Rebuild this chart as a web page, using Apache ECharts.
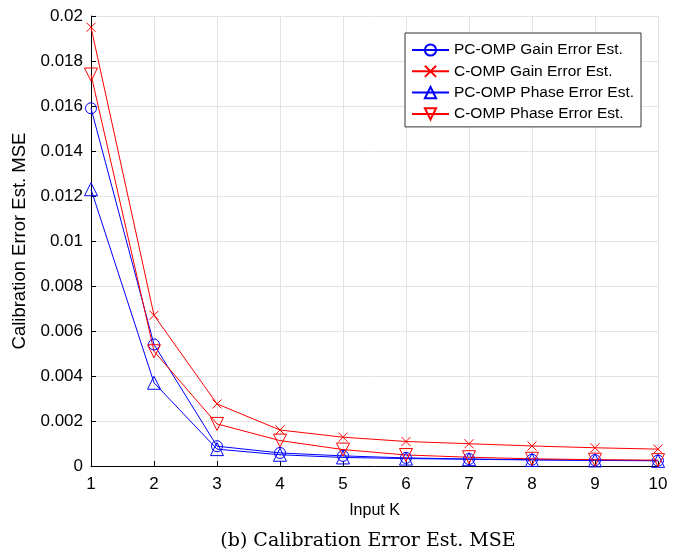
<!DOCTYPE html>
<html><head><meta charset="utf-8">
<script src="https://cdn.jsdelivr.net/npm/echarts@6/dist/echarts.min.js"></script>
<style>html,body{margin:0;padding:0;background:#fff}#c{width:682px;height:554px}</style>
</head><body><div id="c"></div>
<script>
var kValues = [1,2,3,4,5,6,7,8,9,10];
var pcGain  = [0.0159,0.0054,0.00088,0.00058,0.00045,0.00036,0.00031,0.00028,0.00026,0.00024];
var cGain   = [0.0195,0.0067,0.00276,0.0016,0.00128,0.00109,0.00099,0.00089,0.00081,0.00075];
var pcPhase = [0.0123,0.0037,0.00075,0.0005,0.00038,0.00033,0.0003,0.00027,0.00025,0.00023];
var cPhase  = [0.0174,0.0051,0.00187,0.00113,0.00073,0.00049,0.00039,0.00032,0.00028,0.00026];
var seriesNames = ['PC-OMP Gain Error Est.','C-OMP Gain Error Est.','PC-OMP Phase Error Est.','C-OMP Phase Error Est.'];
var yTicks = [0,0.002,0.004,0.006,0.008,0.01,0.012,0.014,0.016,0.018,0.02];

function pairs(v){ return kValues.map(function(k,i){return [k,v[i]];}); }
var BLUE='#0000ff', RED='#ff0000';
var FONT='Liberation Sans';
function mk(name,data,color,symbol,size){
  return {name:name,type:'line',data:pairs(data),symbol:symbol,symbolSize:size,showAllSymbol:true,
    lineStyle:{color:color,width:1},itemStyle:{color:'rgba(0,0,0,0)',borderColor:color,borderWidth:1},
    emphasis:{disabled:true},animation:false};
}
var chart = echarts.init(document.getElementById('c'));
chart.setOption({
  animation:false,
  backgroundColor:'#fff',
  grid:{left:91,right:24,top:16,bottom:88},
  title:{text:'(b) Calibration Error Est. MSE',left:363,textAlign:'center',top:527,
    textStyle:{fontFamily:'DejaVu Serif',fontWeight:'normal',fontSize:19,color:'#000'}},
  legend:{data:seriesNames,orient:'vertical',left:405,top:33,itemWidth:37,itemHeight:14,itemGap:5.3,
    padding:[9,7,5,6],backgroundColor:'#fff',borderColor:'#333',borderWidth:1,
    textStyle:{fontFamily:FONT,fontSize:15.5,color:'#000'},selectedMode:false},
  xAxis:{type:'value',min:1,max:10,interval:1,name:'Input K',nameLocation:'middle',nameGap:37,
    nameTextStyle:{fontFamily:FONT,fontSize:16,color:'#000'},
    axisLine:{lineStyle:{color:'#000'}},axisTick:{inside:true,length:5,lineStyle:{color:'#000'}},
    axisLabel:{fontFamily:FONT,fontSize:17,color:'#000',margin:10},
    splitLine:{show:true,lineStyle:{color:'#e3e3e3'}}},
  yAxis:{type:'value',min:0,max:0.02,interval:0.002,name:'Calibration Error Est. MSE',nameLocation:'middle',nameGap:58,
    nameTextStyle:{fontFamily:FONT,fontSize:18.5,color:'#000'},
    axisLine:{show:true,lineStyle:{color:'#000'}},axisTick:{show:true,inside:true,length:5,lineStyle:{color:'#000'}},
    axisLabel:{fontFamily:FONT,fontSize:17,color:'#000',margin:8,formatter:function(v){
      var best=yTicks.reduce(function(a,b){return Math.abs(b-v)<Math.abs(a-v)?b:a;});return String(best);}},
    splitLine:{show:true,lineStyle:{color:'#e3e3e3'}}},
  series:[
    mk(seriesNames[0],pcGain,BLUE,'circle',11),
    mk(seriesNames[1],cGain,RED,'path://M0,0L10,10M10,0L0,10',9),
    mk(seriesNames[2],pcPhase,BLUE,'triangle',13),
    mk(seriesNames[3],cPhase,RED,'path://M0,0L10,0L5,9Z',13)
  ]
});
</script></body></html>
